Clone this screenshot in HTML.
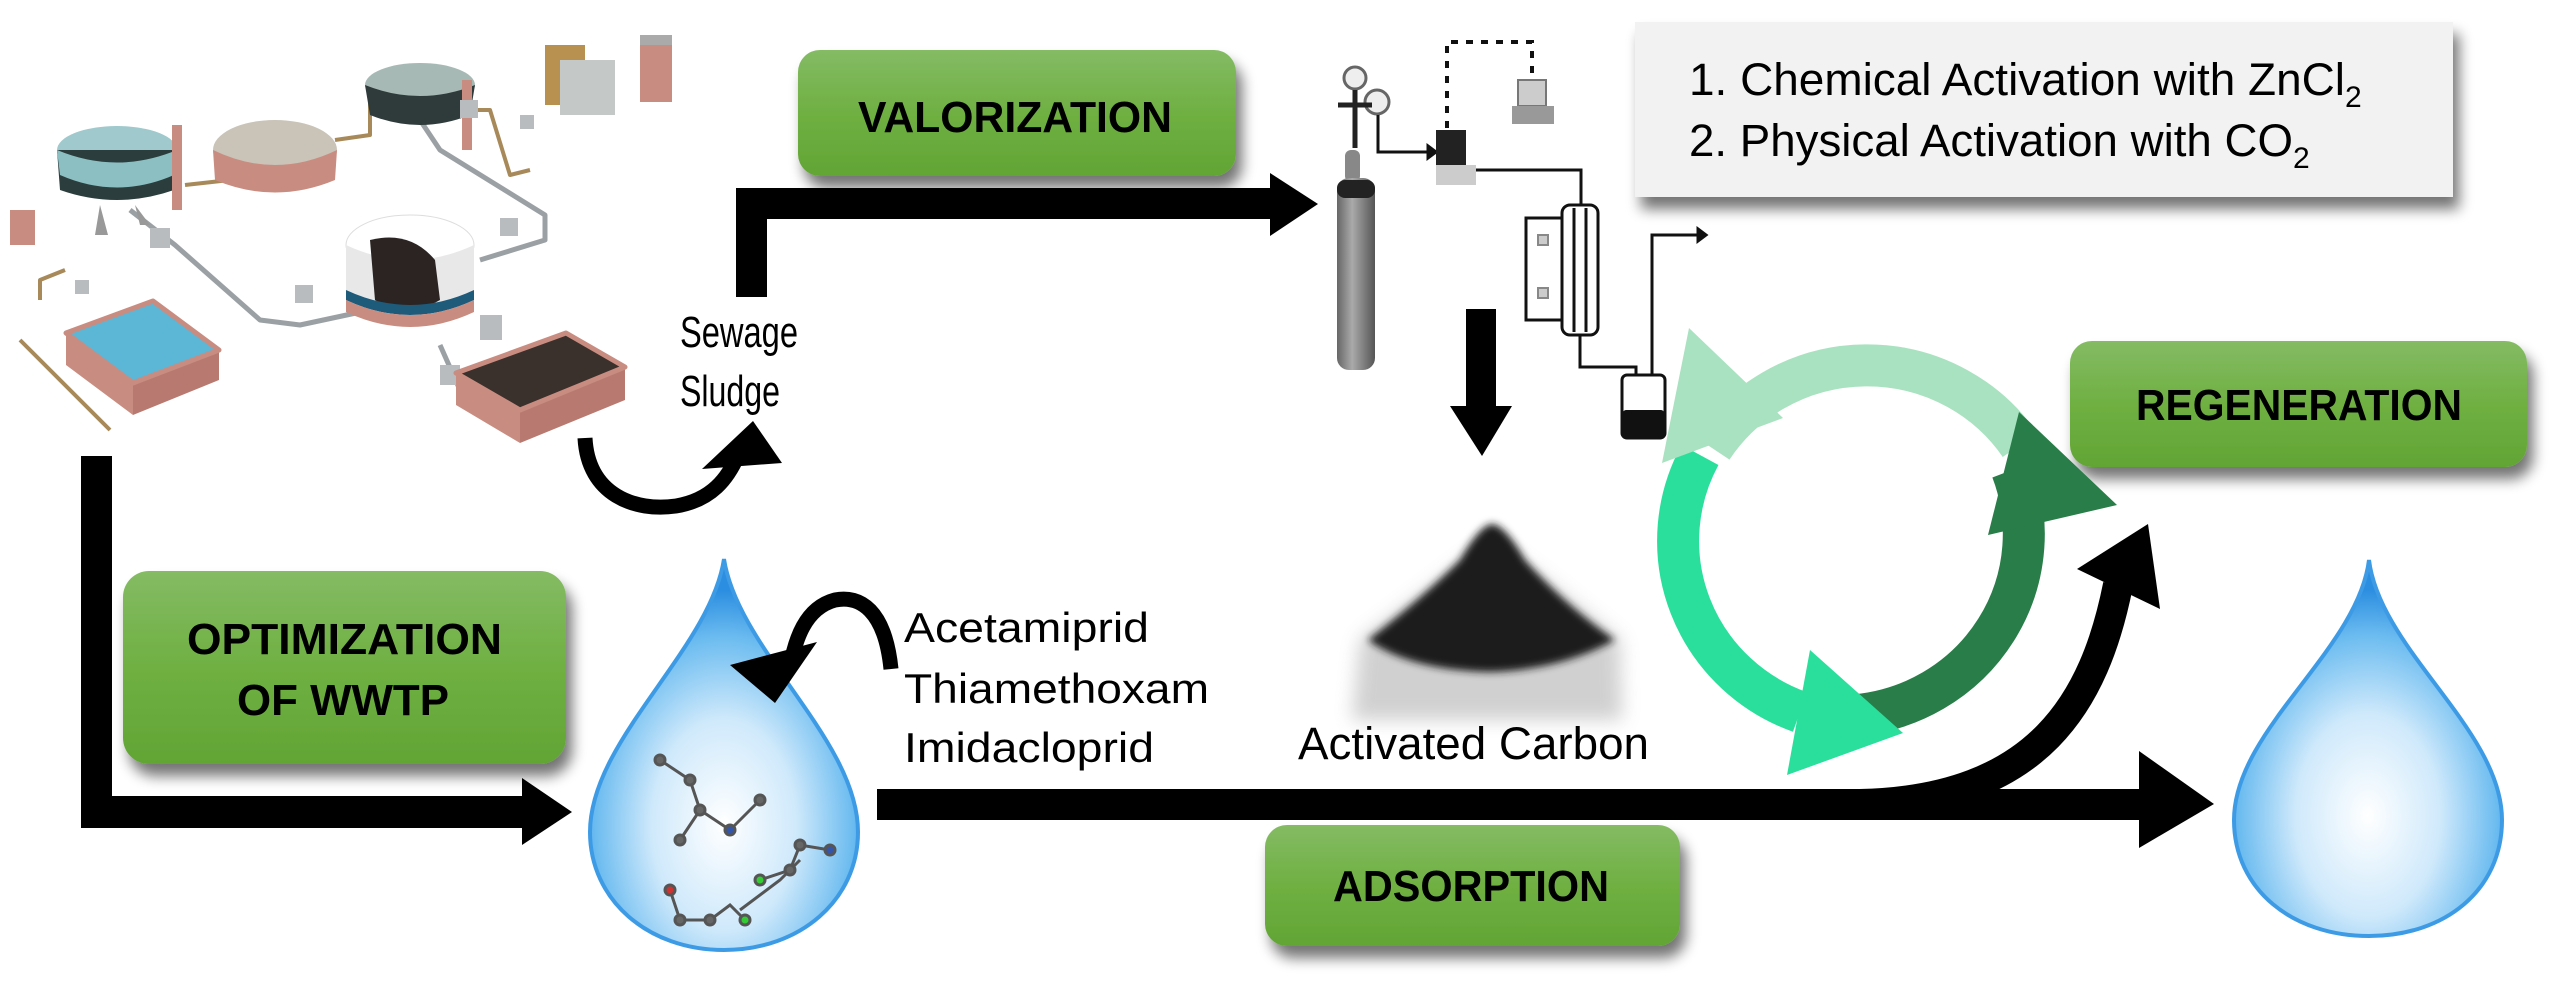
<!DOCTYPE html>
<html><head><meta charset="utf-8"><style>
html,body{margin:0;padding:0;background:#fff}
svg{display:block}
text{font-family:"Liberation Sans Narrow","Liberation Sans",sans-serif}
</style></head><body>
<svg width="2560" height="1005" viewBox="0 0 2560 1005" xmlns="http://www.w3.org/2000/svg">
<defs>
<linearGradient id="gb" x1="0" y1="0" x2="0" y2="1"><stop offset="0" stop-color="#84bb64"/><stop offset="0.5" stop-color="#6fb042"/><stop offset="1" stop-color="#62a535"/></linearGradient>
<filter id="sh" x="-10%" y="-20%" width="125%" height="160%"><feGaussianBlur in="SourceAlpha" stdDeviation="7"/><feOffset dx="6" dy="12"/><feComponentTransfer><feFuncA type="linear" slope="0.55"/></feComponentTransfer><feMerge><feMergeNode/><feMergeNode in="SourceGraphic"/></feMerge></filter>
<radialGradient id="drop" cx="0.5" cy="0.68" r="0.6"><stop offset="0" stop-color="#ffffff"/><stop offset="0.45" stop-color="#cfe9fb"/><stop offset="0.8" stop-color="#6cbcf0"/><stop offset="1" stop-color="#2c8ee0"/></radialGradient>
<filter id="bl"><feGaussianBlur stdDeviation="4"/></filter>
<filter id="bl2"><feGaussianBlur stdDeviation="9"/></filter>
<linearGradient id="cyl" x1="0" x2="1"><stop offset="0" stop-color="#666"/><stop offset="0.4" stop-color="#aaa"/><stop offset="1" stop-color="#555"/></linearGradient>
</defs>

<!-- WWTP plant -->
<g stroke-linejoin="round">
 <g fill="none" stroke="#9aa0a4" stroke-width="5">
  <path d="M130,210 L175,245 L260,320 L300,325 L370,310"/>
  <path d="M420,120 L440,150 L545,215 L545,240 L480,260"/>
  <path d="M440,345 L460,390"/>
 </g>
 <g fill="none" stroke="#a88a5a" stroke-width="4">
  <path d="M20,340 L110,430"/><path d="M40,300 L40,280 L65,270"/><path d="M185,185 L230,180"/><path d="M335,140 L370,135 L370,100"/><path d="M455,110 L490,110 L510,175 L530,170"/>
 </g>
 <ellipse cx="117" cy="150" rx="60" ry="24" fill="#9fc9cc"/>
 <path d="M57,150 L60,190 Q117,210 174,190 L177,150 Z" fill="#2b3d3d"/>
 <path d="M60,175 Q117,200 174,175 L177,150 Q117,175 57,150Z" fill="#8cbfc2"/>
 <path d="M100,205 L95,235 L108,235 Z M135,205 L140,225 L150,225Z" fill="#999"/>
 <rect x="172" y="125" width="10" height="85" fill="#c98c80"/>
 <rect x="10" y="210" width="25" height="35" fill="#c98c80"/>
 <ellipse cx="275" cy="150" rx="62" ry="30" fill="#c9c3b8"/>
 <path d="M213,150 L215,180 Q275,205 335,180 L337,150 Q275,180 213,150Z" fill="#c98c80"/>
 <ellipse cx="420" cy="85" rx="55" ry="22" fill="#a7b9b5"/>
 <path d="M365,85 L370,115 Q420,135 470,115 L475,85 Q420,107 365,85Z" fill="#2f3b3b"/>
 <rect x="462" y="80" width="10" height="70" fill="#c98c80"/>
 <rect x="545" y="45" width="40" height="60" fill="#b89050"/>
 <rect x="560" y="60" width="55" height="55" fill="#c4c8c6"/>
 <rect x="640" y="40" width="32" height="62" fill="#c98c80"/><rect x="640" y="35" width="32" height="10" fill="#aaa"/>
 <ellipse cx="410" cy="245" rx="64" ry="30" fill="#ffffff" stroke="#ddd"/>
 <path d="M346,245 L346,300 Q410,330 474,300 L474,245 Q410,275 346,245Z" fill="#e8e8e8"/>
 <path d="M370,240 Q410,230 435,260 L440,300 Q405,320 375,300Z" fill="#2b2422"/>
 <path d="M346,290 Q410,320 474,290 L474,300 Q410,330 346,300Z" fill="#1e5a7a"/>
 <path d="M346,300 Q410,330 474,300 L474,312 Q410,342 346,312Z" fill="#c98c80"/>
 <g fill="#b8bcbe"><rect x="150" y="228" width="20" height="20"/><rect x="295" y="285" width="18" height="18"/><rect x="500" y="218" width="18" height="18"/><rect x="460" y="100" width="18" height="18"/><rect x="75" y="280" width="14" height="14"/><rect x="440" y="365" width="20" height="20"/><rect x="480" y="315" width="22" height="25"/><rect x="520" y="115" width="14" height="14"/></g>
 <path d="M66,333 L153,301 L219,350 L133,383Z" fill="#5cb6d6"/>
 <path d="M66,333 L66,365 L133,415 L133,383Z" fill="#c98c80"/>
 <path d="M133,383 L219,350 L219,380 L133,415Z" fill="#b87a70"/>
 <path d="M66,333 L153,301 L219,350 L133,383Z" fill="none" stroke="#c98c80" stroke-width="5"/>
 <path d="M456,373 L566,333 L625,367 L520,410Z" fill="#3a302c"/>
 <path d="M456,373 L456,405 L520,443 L520,410Z" fill="#c98c80"/>
 <path d="M520,410 L625,367 L625,400 L520,443Z" fill="#b87a70"/>
 <path d="M456,373 L566,333 L625,367 L520,410Z" fill="none" stroke="#c98c80" stroke-width="5"/>
</g>

<rect x="81" y="456" width="31" height="372" fill="#000"/>
<rect x="81" y="796" width="444" height="32" fill="#000"/>
<polygon points="522,778 572,812 522,845" fill="#000"/>

<rect x="736" y="188" width="31" height="109" fill="#000"/>
<rect x="736" y="188" width="536" height="31" fill="#000"/>
<polygon points="1270,173 1318,204 1270,236" fill="#000"/>

<path d="M585,438 C588,495 635,512 676,506 C712,500 728,478 738,455" fill="none" stroke="#000" stroke-width="15"/>
<polygon points="702,469 753,421 782,463" fill="#000"/>
<text x="680" y="347" font-size="44" textLength="118" lengthAdjust="spacingAndGlyphs">Sewage</text>
<text x="680" y="406" font-size="44" textLength="100" lengthAdjust="spacingAndGlyphs">Sludge</text>

<g filter="url(#sh)">
 <rect x="798" y="50" width="438" height="126" rx="22" fill="url(#gb)"/>
 <rect x="123" y="571" width="443" height="193" rx="26" fill="url(#gb)"/>
 <rect x="1265" y="825" width="415" height="121" rx="22" fill="url(#gb)"/>
 <rect x="2070" y="341" width="457" height="126" rx="22" fill="url(#gb)"/>
</g>
<g font-weight="bold" font-size="44" fill="#000">
 <text x="858" y="132" textLength="314" lengthAdjust="spacingAndGlyphs">VALORIZATION</text>
 <text x="187" y="654" textLength="315" lengthAdjust="spacingAndGlyphs">OPTIMIZATION</text>
 <text x="237" y="715" textLength="212" lengthAdjust="spacingAndGlyphs">OF WWTP</text>
 <text x="1333" y="901" textLength="276" lengthAdjust="spacingAndGlyphs">ADSORPTION</text>
 <text x="2136" y="420" textLength="326" lengthAdjust="spacingAndGlyphs">REGENERATION</text>
</g>

<g filter="url(#sh)"><rect x="1635" y="22" width="818" height="175" fill="#f2f2f2"/></g>
<text x="1689" y="95" font-size="45"><tspan textLength="656" lengthAdjust="spacingAndGlyphs">1. Chemical Activation with ZnCl</tspan><tspan font-size="30" dy="12">2</tspan></text>
<text x="1689" y="156" font-size="45"><tspan textLength="604" lengthAdjust="spacingAndGlyphs">2. Physical Activation with CO</tspan><tspan font-size="30" dy="12">2</tspan></text>

<g stroke="#111" fill="none" stroke-width="3">
 <circle cx="1355" cy="78" r="11" fill="#eee" stroke="#666"/>
 <circle cx="1377" cy="102" r="12" fill="#eee" stroke="#666"/>
 <path d="M1338,105 L1372,105 M1355,90 L1355,148" stroke="#222" stroke-width="5"/>
 <path d="M1378,115 L1378,152 L1428,152"/>
 <polygon points="1428,146 1436,152 1428,158" fill="#111"/>
 <path d="M1447,128 L1447,42 L1532,42 L1532,78" stroke-dasharray="7,8" stroke-width="4"/>
 <path d="M1473,170 L1581,170 L1581,205"/>
 <path d="M1580,335 L1580,367 L1636,367 L1636,380"/>
 <path d="M1652,380 L1652,235 L1698,235"/>
 <polygon points="1698,229 1706,235 1698,241" fill="#111"/>
 <rect x="1562" y="205" width="36" height="130" rx="8" fill="#fff"/>
 <path d="M1574,208 L1574,332 M1586,208 L1586,332"/>
 <rect x="1526" y="218" width="36" height="102" fill="#fff"/>
 <rect x="1538" y="235" width="10" height="10" fill="#ccc" stroke="#888" stroke-width="2"/>
 <rect x="1538" y="288" width="10" height="10" fill="#ccc" stroke="#888" stroke-width="2"/>
 <rect x="1622" y="375" width="43" height="63" rx="5" fill="#fff"/>
</g>
<rect x="1623" y="410" width="41" height="27" rx="3" fill="#111"/>
<rect x="1345" y="150" width="15" height="32" rx="6" fill="#888"/>
<rect x="1337" y="178" width="38" height="192" rx="12" fill="url(#cyl)"/>
<rect x="1337" y="180" width="38" height="18" rx="8" fill="#222"/>
<rect x="1436" y="130" width="30" height="40" fill="#222"/>
<rect x="1436" y="165" width="40" height="20" fill="#ccc"/>
<rect x="1518" y="80" width="28" height="26" fill="#ccc" stroke="#777" stroke-width="2"/>
<rect x="1512" y="106" width="42" height="18" fill="#999"/>

<rect x="1466" y="309" width="30" height="97" fill="#000"/>
<polygon points="1450,406 1512,406 1482,456" fill="#000"/>

<!-- Activated carbon pile -->
<path d="M1352,720 L1360,640 L1440,580 L1492,540 L1545,580 L1620,640 L1622,720Z" fill="#999" filter="url(#bl2)" opacity="0.45"/>
<path d="M1368,640 Q1420,600 1460,560 Q1480,525 1492,524 Q1505,525 1525,560 Q1565,605 1615,640 Q1560,670 1490,672 Q1410,670 1368,640Z" fill="#1c1c1c" filter="url(#bl)"/>
<text x="1298" y="759" font-size="45" textLength="351" lengthAdjust="spacingAndGlyphs">Activated Carbon</text>

<rect x="877" y="789" width="1265" height="31" fill="#000"/>
<polygon points="2139,751 2214,804 2139,848" fill="#000"/>
<path d="M1860,804 C2040,800 2095,700 2118,585" fill="none" stroke="#000" stroke-width="30"/>
<polygon points="2077,569 2148,524 2160,609" fill="#000"/>

<g fill="none" stroke-width="42">
 <path d="M2020,445 A185,182 0 0 0 1712,448" stroke="#a9e2c0"/>
 <path d="M1700,455 A185,182 0 0 0 1800,712" stroke="#2adf9b"/>
 <path d="M1858,715 A185,182 0 0 0 2012,470" stroke="#287d48"/>
</g>
<polygon points="1689,328 1783,418 1662,463" fill="#a9e2c0"/>
<polygon points="1810,650 1903,733 1787,775" fill="#2adf9b"/>
<polygon points="2019,412 2117,505 1988,535" fill="#287d48"/>

<path d="M724,559 C738,650 858,740 858,832 C858,900 800,950 724,950 C648,950 590,900 590,832 C590,740 710,650 724,559Z" fill="url(#drop)" stroke="#3d9be6" stroke-width="4"/>
<g stroke="#555" stroke-width="3" fill="#666">
 <path d="M660,760 L690,780 L700,810 L730,830 L760,800 M700,810 L680,840 M740,910 L780,880 L800,860" fill="none"/>
 <circle cx="660" cy="760" r="5"/><circle cx="690" cy="780" r="5"/><circle cx="700" cy="810" r="5"/><circle cx="730" cy="830" r="5" fill="#35a"/><circle cx="760" cy="800" r="5"/><circle cx="680" cy="840" r="5"/>
 <path d="M760,880 L790,870 L800,845 L830,850" fill="none"/><circle cx="760" cy="880" r="5" fill="#3c3"/><circle cx="790" cy="870" r="5"/><circle cx="800" cy="845" r="5"/><circle cx="830" cy="850" r="5" fill="#35a"/>
 <path d="M670,890 L680,920 L710,920 L730,905 L745,920" fill="none"/><circle cx="670" cy="890" r="5" fill="#c33"/><circle cx="680" cy="920" r="5"/><circle cx="710" cy="920" r="5"/><circle cx="745" cy="920" r="5" fill="#3c3"/>
</g>

<path d="M891,669 C885,610 860,595 835,600 C805,608 795,640 790,668" fill="none" stroke="#000" stroke-width="15"/>
<polygon points="730,665 775,703 817,642" fill="#000"/>
<g font-size="42">
 <text x="904" y="642" textLength="245" lengthAdjust="spacingAndGlyphs">Acetamiprid</text>
 <text x="904" y="703" textLength="305" lengthAdjust="spacingAndGlyphs">Thiamethoxam</text>
 <text x="904" y="762" textLength="250" lengthAdjust="spacingAndGlyphs">Imidacloprid</text>
</g>

<path d="M2369,560 C2380,650 2502,730 2502,820 C2502,890 2445,936 2369,936 C2293,936 2234,890 2234,820 C2234,730 2358,650 2369,560Z" fill="url(#drop)" stroke="#3d9be6" stroke-width="4"/>
</svg>
</body></html>
